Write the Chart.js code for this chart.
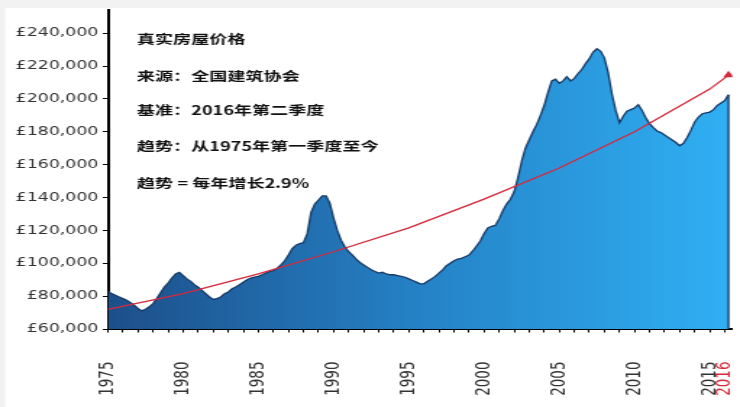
<!DOCTYPE html>
<html>
<head>
<meta charset="utf-8">
<script src="https://cdn.jsdelivr.net/npm/chart.js@4/dist/chart.umd.min.js"></script>
<style>
  html, body { margin: 0; padding: 0; background: #f2f2f2; overflow: hidden; }
  #wrap { width: 740px; height: 407px; overflow: hidden; }
  /* the reference is stretched sideways, so draw narrow and scale up */
  #stretch { width: 511px; height: 407px; transform: scaleX(1.4481); transform-origin: 0 0; }
</style>
</head>
<body>
<div id="wrap"><div id="stretch"><canvas id="price-chart" width="511" height="407"></canvas></div></div>
<script>
const firstYear = 1975;
// real house price, quarterly from 1975 Q1 to 2016 Q2 (£)
const priceByQuarter = [
  83000, 81500, 80500, 79500,
  78500, 77500, 76000, 74500,
  72500, 71000, 72000, 73500,
  75500, 78500, 82000, 85500,
  88000, 91000, 93500, 94500,
  92500, 90500, 89000, 87000,
  85500, 83500, 81500, 79500,
  78000, 78500, 79500, 81500,
  82500, 84500, 85500, 87000,
  88500, 90000, 91000, 91500,
  92000, 93000, 94000, 95000,
  95500, 97000, 99000, 101500,
  105000, 109000, 111000, 112000,
  112500, 118000, 131000, 136000,
  138500, 141000, 141000, 136500,
  127500, 120000, 114000, 110000,
  107000, 105000, 102500, 100500,
  99000, 97500, 96000, 95000,
  94000, 94500, 93500, 93000,
  93000, 92500, 92000, 91500,
  90500, 89500, 88500, 87500,
  87500, 89000, 90500, 92000,
  94000, 96000, 98500, 100000,
  101500, 102500, 103000, 104000,
  105000, 107500, 110500, 113500,
  118000, 121500, 122500, 123000,
  127000, 132000, 136000, 139000,
  143500, 152000, 162000, 170000,
  175000, 180000, 184500, 190000,
  196000, 204000, 211000, 212000,
  209500, 211000, 213500, 211000,
  212500, 215500, 218000, 221500,
  224500, 228500, 230500, 229000,
  225000, 216000, 203000, 193000,
  185500, 189500, 192500, 193500,
  194500, 196500, 193000, 188500,
  185000, 182500, 180500, 179500,
  178000, 176500, 175000, 173500,
  171500, 173000, 176500, 181000,
  186000, 189000, 191000, 191500,
  192000, 193500, 196000, 197500,
  199000, 202500
];
const trendYears = [1975, 1980, 1985, 1990, 1995, 2000, 2005, 2010, 2015, 2016.25];
const trendValues = [72000, 81500, 93500, 107000, 121500, 139000, 158000, 180000, 206000, 214500];
const yTicks = [60000, 80000, 100000, 120000, 140000, 160000, 180000, 200000, 220000, 240000];
const xLabelYears = [1975, 1980, 1985, 1990, 1995, 2000, 2005, 2010, 2015, 2016];
const notes = [
  "真实房屋价格",
  "来源：全国建筑协会",
  "基准：2016年第二季度",
  "趋势：从1975年第一季度至今",
  "趋势 = 每年增长2.9%"
];

const priceData = priceByQuarter.map((v, i) => ({ x: firstYear + i / 4, y: v }));
const trendData = trendValues.map((v, i) => ({ x: trendYears[i], y: v }));
const trendRed = "#d42a3c";

const panelPlugin = {
  id: "panel",
  beforeDraw(chart) {
    const ctx = chart.ctx;
    ctx.save();
    ctx.fillStyle = "#f2f2f2";
    ctx.fillRect(0, 0, chart.width, chart.height);
    ctx.fillStyle = "#ffffff";
    ctx.fillRect(3.5, 8, chart.width - 3.5, chart.height - 8);
    ctx.restore();
  },
  afterDatasetsDraw(chart) {
    // close the area on the right like the original
    const meta = chart.getDatasetMeta(1);
    const last = meta.data[meta.data.length - 1];
    const ctx = chart.ctx;
    ctx.save();
    ctx.strokeStyle = "#163a66";
    ctx.lineWidth = 1.3;
    ctx.beginPath();
    ctx.moveTo(last.x, last.y);
    ctx.lineTo(last.x, chart.chartArea.bottom);
    ctx.stroke();
    ctx.restore();
  },
  afterDraw(chart) {
    const ctx = chart.ctx;
    ctx.save();
    ctx.fillStyle = "#111";
    ctx.textBaseline = "middle";
    const rows = [39, 76.5, 110, 146.5, 183];
    notes.forEach((t, i) => {
      ctx.font = 'bold 12.5px "Noto Sans CJK SC"';
      ctx.fillText(t, 94.6, rows[i]);
    });
    ctx.restore();
  }
};

const ctx = document.getElementById("price-chart").getContext("2d");
new Chart(ctx, {
  type: "line",
  data: {
    datasets: [
      {
        label: "趋势",
        data: trendData,
        borderColor: trendRed,
        borderWidth: 1.3,
        pointRadius: (c) => (c.dataIndex === trendData.length - 1 ? 3 : 0),
        pointStyle: "triangle",
        pointBackgroundColor: trendRed,
        pointBorderColor: trendRed,
        fill: false,
        tension: 0,
      },
      {
        label: "真实房屋价格",
        data: priceData,
        borderColor: "#163a66",
        borderWidth: 1.3,
        pointRadius: 0,
        tension: 0,
        fill: "start",
        backgroundColor: (c) => {
          const area = c.chart.chartArea;
          if (!area) return "#2276b8";
          const g = c.chart.ctx.createLinearGradient(area.left, 0, area.right, 0);
          g.addColorStop(0, "#1d4f8a");
          g.addColorStop(0.5, "#2582c6");
          g.addColorStop(1, "#30b0f4");
          return g;
        },
      },
    ],
  },
  options: {
    responsive: false,
    animation: false,
    devicePixelRatio: 1,
    layout: { padding: { top: 8, right: 3.7, left: 0, bottom: 0 } },
    plugins: {
      legend: { display: false },
      tooltip: { enabled: false },
    },
    scales: {
      x: {
        type: "linear",
        min: 1975,
        max: 2016.5,
        afterBuildTicks: (scale) => {
          const t = [];
          for (let y = 1975; y <= 2016; y++) t.push({ value: y });
          scale.ticks = t;
        },
        afterFit: (scale) => {
          scale.height = 78;
          scale.paddingLeft = 0;
          scale.paddingRight = 0;
        },
        ticks: {
          autoSkip: false,
          maxRotation: 90,
          minRotation: 90,
          padding: 29,
          font: { family: "DejaVu Sans", size: 13.5 },
          color: (c) => (c.tick && c.tick.value === 2016 ? trendRed : "#333"),
          callback: (v) => (xLabelYears.includes(v) ? String(v) : ""),
        },
        grid: { drawOnChartArea: false, tickLength: 3.5, tickColor: "#000", tickWidth: 1 },
        border: { display: true, color: "#000", width: 2 },
      },
      y: {
        min: 60000,
        max: 254000,
        afterBuildTicks: (scale) => {
          scale.ticks = yTicks.map((v) => ({ value: v }));
        },
        afterFit: (scale) => { scale.width = 74.5; },
        ticks: {
          padding: 3,
          font: { family: "DejaVu Sans", size: 12 },
          color: "#333",
          callback: (v) => "£" + v.toLocaleString("en-GB"),
        },
        grid: { drawOnChartArea: false, tickLength: 3.5, tickColor: "#000", tickWidth: 1 },
        border: { display: true, color: "#000", width: 2 },
      },
    },
  },
  plugins: [panelPlugin],
});
</script>
</body>
</html>
